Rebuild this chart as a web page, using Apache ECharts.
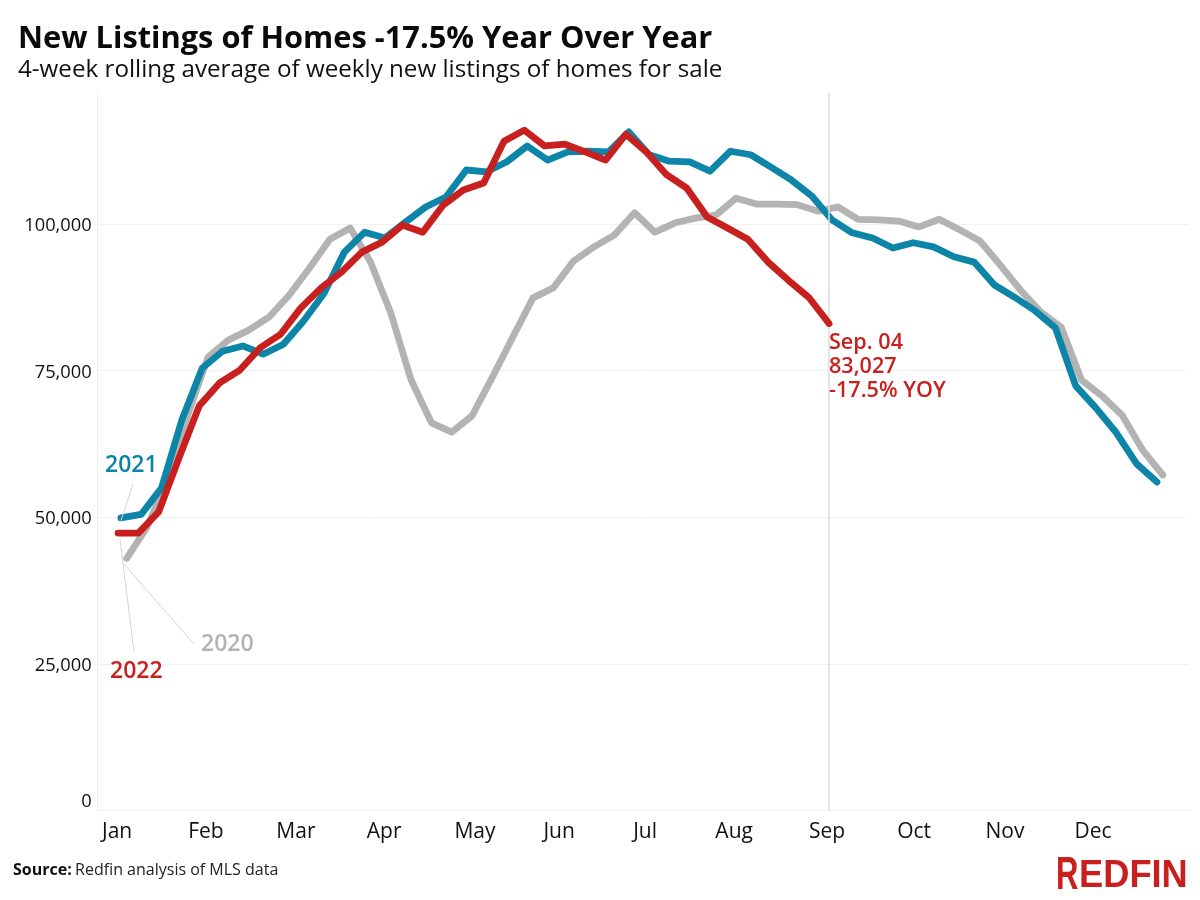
<!DOCTYPE html>
<html><head><meta charset="utf-8">
<style>html,body{margin:0;padding:0;background:#fff}#c{width:1200px;height:900px}</style>
<script src="https://cdn.jsdelivr.net/npm/echarts@6/dist/echarts.min.js"></script>
</head><body><div id="c"></div>
<script>
const titleText = 'New Listings of Homes -17.5% Year Over Year';
const subtitleText = '4-week rolling average of weekly new listings of homes for sale';
const monthLabels = ['Jan','Feb','Mar','Apr','May','Jun','Jul','Aug','Sep','Oct','Nov','Dec'];
const monthTickDays = [1.7,32.3,63.3,93.7,125,154,183.6,214.3,246.3,276.3,307.6,338];
const yTicks = [0,25000,50000,75000,100000];
const start2020 = 5, start2021 = 3, start2022 = 2;
const values2020 = [43000,48300,56400,67400,77300,80200,81900,84100,87900,92500,97400,99300,93500,84800,73400,66100,64500,67300,73900,80700,87400,89100,93700,96100,98100,101900,98600,100200,101000,101500,104400,103400,103400,103300,102200,102900,100800,100700,100500,99500,100800,99000,97100,93000,88700,85000,82400,73400,70700,67400,61500,57200];
const values2021 = [49900,50500,55000,66600,75400,78300,79200,77800,79500,83500,88200,95200,98600,97600,100300,102900,104600,109200,108900,110600,113300,110900,112300,112400,112300,115700,111800,110700,110600,109000,112400,111800,109700,107500,104800,100700,98500,97600,95900,96800,96100,94400,93500,89600,87500,85200,82300,72400,68600,64400,59100,56000];
const values2022 = [47300,47300,50900,60100,69000,72900,75100,78900,81200,85700,89100,91800,95200,96900,99800,98600,103200,105800,107000,114100,116000,113300,113600,112300,110900,115300,112300,108400,106100,101200,99300,97400,93500,90400,87500,83027];
const leader2021 = [[7.2,55670],[3,49400]];
const leader2022 = [[2.7,46150],[7.5,27200]];
const leader2020 = [[3.7,42200],[28.2,28390]];
const sepDay = 247;
const BLUE='#0c85a8', RED='#c8201f', GRAY='#b3b3b3', LEAD='#d4d4d4';
const FONT='Open Sans';
const weekly=(vals,start)=>vals.map((v,i)=>[start+7*i,v]);
const lineSeries=(name,vals,start,color,z)=>({name,type:'line',data:weekly(vals,start),showSymbol:false,silent:true,z,
  lineStyle:{color,width:6.8,cap:'round',join:'round'},animation:false});
const leader=(data)=>({type:'line',data,showSymbol:false,silent:true,z:10,lineStyle:{color:LEAD,width:1},animation:false});
const txt=(x,y,text,fill,size,weight)=>({type:'text',x,y,z:20,style:{text,fill,font:`${weight} ${size}px "${FONT}"`,textVerticalAlign:'middle'}});
const chart=echarts.init(document.getElementById('c'),null,{renderer:'canvas'});
chart.setOption({
  animation:false,backgroundColor:'#fff',
  grid:{left:97.7,top:93,width:1091.2,height:717.5,containLabel:false},
  xAxis:{type:'value',min:-5,max:371,
    axisLine:{show:true,onZero:false,lineStyle:{color:'#eeeeee',width:1}},axisTick:{show:false},splitLine:{show:false},
    axisLabel:{customValues:monthTickDays,margin:11,color:'#111',fontFamily:FONT,fontSize:21,fontWeight:500,
      formatter:(v)=>{const i=monthTickDays.indexOf(v);return i>=0?monthLabels[i]:'';}}},
  yAxis:{type:'value',min:0,max:122330,interval:25000,
    axisLine:{show:true,onZero:false,lineStyle:{color:'#eeeeee',width:1}},axisTick:{show:false},
    splitLine:{show:true,showMaxLine:false,lineStyle:{color:'#f1f1f1',width:1}},
    axisLabel:{customValues:yTicks,margin:6,color:'#111',fontFamily:FONT,fontSize:18.3,fontWeight:400,verticalAlignMinLabel:'bottom',
      rich:{a:{fontFamily:FONT,fontSize:18.3,color:'#111',padding:[4,0,0,0]}},
      formatter:(v)=>'{a|'+v.toLocaleString('en-US')+'}'}},
  series:[
    {type:'line',data:[],silent:true,z:1,markLine:{silent:true,symbol:'none',animation:false,label:{show:false},
      lineStyle:{color:'#dddddd',width:1.5,type:'solid'},data:[{xAxis:sepDay}]}},
    lineSeries('2020',values2020,start2020,GRAY,3),
    lineSeries('2021',values2021,start2021,BLUE,4),
    lineSeries('2022',values2022,start2022,RED,5),
    leader(leader2021),leader(leader2022),leader(leader2020)
  ],
  graphic:[
    txt(18,39,titleText,'#0a0a0a',30.8,700),
    txt(18,70,subtitleText,'#111',24.2,400),
    txt(105,465,'2021',BLUE,23,600),
    txt(110,671,'2022',RED,23,600),
    txt(201,644,'2020',GRAY,23,600),
    txt(829,343,'Sep. 04',RED,21.6,600),
    txt(829,367,'83,027',RED,21.6,600),
    txt(829,391,'-17.5% YOY',RED,21.6,600),
    {type:'text',x:13,y:870,z:20,style:{rich:{b:{fontFamily:FONT,fontSize:16,fontWeight:700,fill:'#111'},r:{fontFamily:FONT,fontSize:16,fontWeight:400,fill:'#222'}},text:'{b|Source:} {r|Redfin analysis of MLS data}',verticalAlign:'middle'}},
    {type:'text',x:1056,y:876,scaleX:0.66,z:20,style:{text:'R',fill:RED,font:'700 47px "Liberation Sans"',textVerticalAlign:'middle'}},
    {type:'text',x:1079,y:876,scaleX:0.93,z:20,style:{text:'EDFIN',fill:RED,font:'700 39px "Liberation Sans"',textVerticalAlign:'middle'}}
  ]
});
</script></body></html>
